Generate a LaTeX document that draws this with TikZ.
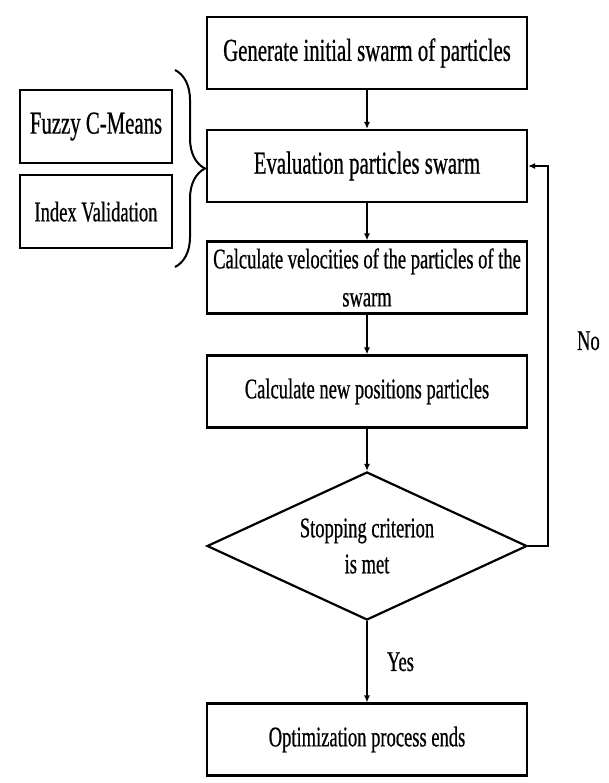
\documentclass[tikz,border=0pt]{standalone}
\usepackage{fontspec}
\setmainfont[FakeStretch=0.65,FakeBold=0.6]{Liberation Serif}
\usetikzlibrary{positioning,arrows.meta,shapes.geometric,decorations.pathreplacing}

\begin{document}
\begin{tikzpicture}[
    x=1pt, y=-1pt,
    box/.style={
      draw,
      line width=2.2pt,
      minimum width=320pt,
      minimum height=72pt,
      inner sep=2pt,
      align=center,
      font=\fontsize{28.5}{38}\selectfont
    },
    big/.style={font=\fontsize{32}{38}\selectfont},
    side/.style={box, minimum width=152pt, minimum height=73pt},
    test/.style={
      draw,
      diamond,
      aspect=2.6,
      line width=2.2pt,
      minimum width=320pt,
      minimum height=148pt,
      inner sep=0pt,
      align=center,
      font=\fontsize{28.5}{36}\selectfont
    },
    arr/.style={
      -{Latex[length=7pt,width=6pt]},
      line width=1.3pt
    },
    lbl/.style={font=\fontsize{28.5}{32}\selectfont}
  ]
    \useasboundingbox (0,0) rectangle (608,783);

    \node[box, big] (gen) at (367,53) {Generate initial swarm of particles};
    \node[box, big] (eval) at (367,166) {Evaluation particles swarm};
    \node[box] (vel) at (367,277.5) {Calculate velocities of the particles of the\\swarm};
    \node[box] (pos) at (367,391.5) {Calculate new positions particles};
    \node[test] (stop) at (367,546) {Stopping criterion\\is met};
    \node[box] (done) at (367,739.5) {Optimization process ends};

    \node[side, big] (fcm) at (96,126.5) {Fuzzy C-Means};
    \node[side, below=10pt of fcm] (idx) {Index Validation};

    % brace grouping the two side boxes
    \coordinate (btop) at (175,70);
    \coordinate (bbot) at (175,267);
    \draw[line width=2pt, decorate, decoration={brace, amplitude=30pt}] (btop) -- (bbot);

    \draw[arr] (gen) -- (eval);
    \draw[arr] (eval) -- (vel);
    \draw[arr] (vel) -- (pos);
    \draw[arr] (pos) -- (stop);
    \draw[arr] (stop) -- node[lbl, right=16pt] {Yes} (done);
    \draw[arr] (stop.east) -- ++(20,0) |- node[lbl, pos=0.27, right=25pt] {No} (eval.east);
  \end{tikzpicture}
\end{document}
